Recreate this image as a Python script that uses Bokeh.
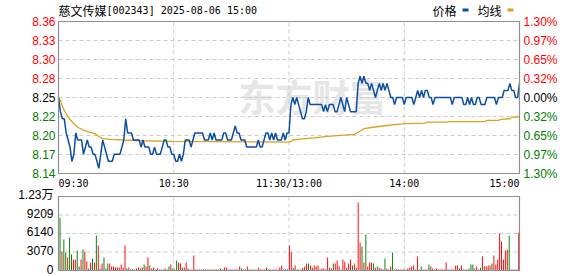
from bokeh.plotting import figure
from bokeh.models import Range1d, LabelSet, Label, ColumnDataSource, BoxAnnotation
from bokeh.embed import file_html
from bokeh.resources import INLINE
from bokeh.core.properties import value

# ---------------- data ----------------
stock_name = "慈文传媒"
title_rest = "[002343] 2025-08-06 15:00"
legend_price = "价格"
legend_avg = "均线"
watermark = "东方财富"

pre_close = 8.25
pct_levels = [1.3, 0.975, 0.65, 0.325, 0.0, -0.325, -0.65, -0.975, -1.3]
price_tick_labels = ["8.36", "8.33", "8.30", "8.28", "8.25", "8.22", "8.20", "8.17", "8.14"]
pct_tick_labels = ["1.30%", "0.97%", "0.65%", "0.32%", "0.00%", "0.32%", "0.65%", "0.97%", "1.30%"]

time_ticks = [0, 60, 120, 180, 240]
time_labels = ["09:30", "10:30", "11:30/13:00", "14:00", "15:00"]

vol_ticks = [0, 3070, 6140, 9209, 12279]
vol_tick_labels = ["0", "3070", "6140", "9209", "1.23万"]

price = [
    8.25, 8.23, 8.22, 8.22, 8.20, 8.19, 8.18, 8.16, 8.17, 8.20,
    8.19, 8.19, 8.19, 8.17, 8.18, 8.19, 8.18, 8.18, 8.17, 8.17,
    8.16, 8.15, 8.17, 8.19, 8.18, 8.17, 8.16, 8.16, 8.16, 8.17,
    8.17, 8.17, 8.17, 8.18, 8.19, 8.22, 8.20, 8.20, 8.20, 8.19,
    8.19, 8.19, 8.19, 8.18, 8.19, 8.18, 8.18, 8.18, 8.17, 8.17,
    8.18, 8.17, 8.17, 8.17, 8.18, 8.19, 8.19, 8.18, 8.18, 8.17,
    8.17, 8.16, 8.16, 8.17, 8.16, 8.17, 8.19, 8.19, 8.19, 8.18,
    8.19, 8.20, 8.20, 8.20, 8.20, 8.20, 8.19, 8.19, 8.19, 8.20,
    8.19, 8.20, 8.19, 8.19, 8.19, 8.19, 8.20, 8.20, 8.19, 8.19,
    8.19, 8.20, 8.21, 8.20, 8.20, 8.19, 8.19, 8.19, 8.18, 8.18,
    8.18, 8.18, 8.18, 8.18, 8.19, 8.18, 8.18, 8.19, 8.20, 8.20,
    8.19, 8.20, 8.19, 8.20, 8.19, 8.19, 8.19, 8.20, 8.19, 8.20,
    8.20, 8.24, 8.25, 8.24, 8.25, 8.24, 8.23, 8.22, 8.22, 8.23,
    8.25, 8.24, 8.24, 8.24, 8.24, 8.24, 8.24, 8.24, 8.23, 8.24,
    8.23, 8.24, 8.24, 8.24, 8.23, 8.23, 8.24, 8.25, 8.24, 8.23,
    8.25, 8.24, 8.23, 8.23, 8.23, 8.23, 8.27, 8.28, 8.27, 8.28,
    8.27, 8.27, 8.26, 8.27, 8.26, 8.25, 8.26, 8.27, 8.26, 8.27,
    8.26, 8.27, 8.26, 8.25, 8.25, 8.24, 8.25, 8.25, 8.25, 8.25,
    8.24, 8.25, 8.25, 8.25, 8.25, 8.24, 8.25, 8.26, 8.25, 8.26,
    8.25, 8.26, 8.26, 8.25, 8.25, 8.24, 8.25, 8.25, 8.25, 8.25,
    8.25, 8.25, 8.25, 8.25, 8.25, 8.24, 8.25, 8.25, 8.25, 8.25,
    8.25, 8.24, 8.24, 8.25, 8.24, 8.25, 8.24, 8.24, 8.25, 8.25,
    8.24, 8.24, 8.24, 8.25, 8.25, 8.25, 8.25, 8.25, 8.24, 8.25,
    8.25, 8.25, 8.26, 8.26, 8.26, 8.27, 8.26, 8.26, 8.25, 8.25,
    8.27,
]

avg_t = [0, 1, 2, 3, 4, 6, 8, 10, 13, 16, 19, 21, 23, 27, 34, 44, 60, 120,
         121, 122, 127, 133, 140, 147, 154, 156, 159, 164, 171, 176, 181, 191,
         192, 202, 203, 222, 223, 229, 230, 235, 236, 239, 240]
avg_v = [8.250, 8.246, 8.238, 8.232, 8.227, 8.219, 8.213, 8.208, 8.204, 8.201,
         8.199, 8.195, 8.192, 8.191, 8.190, 8.189, 8.188, 8.187,
         8.188, 8.190, 8.1915, 8.193, 8.195, 8.1965, 8.198, 8.201, 8.206, 8.208,
         8.2105, 8.212, 8.213, 8.2138, 8.2153, 8.2153, 8.216, 8.216, 8.2176, 8.2176,
         8.219, 8.220, 8.2223, 8.2223, 8.223]

volume = [
    8740, 3150, 5140, 2990, 2160, 5470, 2650, 1825, 1825, 3320,
    660, 1825, 3480, 3150, 1490, 330, 1330, 1990, 1330, 5800,
    4150, 330, 1160, 2160, 330, 1160, 1160, 660, 660, 500,
    500, 500, 1000, 500, 4150, 330, 500, 170, 170, 170,
    330, 500, 330, 500, 1000, 660, 2160, 830, 330, 500,
    170, 330, 170, 170, 170, 330, 170, 660, 1000, 330,
    170, 1660, 1330, 1160, 500, 500, 1330, 330, 170, 170,
    2490, 170, 170, 170, 170, 170, 170, 170, 170, 170,
    170, 170, 170, 170, 330, 170, 500, 500, 170, 170,
    170, 170, 170, 170, 660, 330, 170, 170, 660, 170,
    170, 170, 170, 170, 500, 170, 170, 170, 500, 170,
    170, 170, 170, 170, 170, 500, 830, 170, 170, 170,
    4150,
    3040, 440, 830, 170, 170, 170, 440, 660, 1160, 1160,
    830, 440, 830, 660, 830, 170, 330, 330, 170, 2160,
    440, 330, 1160, 1160, 1660, 660, 170, 1825, 1440, 440,
    1160, 1825, 830, 1160, 440, 11280, 4645, 3980, 1330, 5970,
    660, 1330, 1330, 1160, 440, 660, 440, 330, 170, 1990,
    330, 170, 660, 2990, 170, 170, 170, 170, 170, 170,
    170, 330, 440, 660, 830, 170, 2320, 170, 660, 170,
    170, 170, 1000, 660, 330, 170, 330, 170, 170, 170,
    170, 1330, 170, 170, 170, 170, 830, 830, 330, 830,
    170, 170, 170, 330, 1000, 1000, 330, 660, 170, 440,
    2320, 660, 660, 830, 830, 1160, 2490, 1000, 1825, 6140,
    4810, 1825, 3320, 3480, 5800, 170, 170, 170, 170, 6250,
]
# 1 = up (red), 0 = down (green)
vol_dir = [
    0, 1, 0, 0, 1, 0, 0, 1, 1, 0,
    0, 1, 0, 1, 1, 0, 1, 0, 1, 0,
    1, 1, 1, 0, 0, 0, 1, 1, 1, 1,
    1, 1, 1, 1, 1, 0, 1, 0, 0, 1,
    1, 1, 0, 1, 0, 1, 1, 0, 1, 1,
    0, 1, 0, 1, 1, 1, 0, 0, 1, 0,
    1, 0, 1, 1, 0, 1, 1, 1, 0, 1,
    1, 1, 0, 1, 1, 0, 1, 1, 1, 0,
    1, 1, 1, 0, 1, 0, 1, 1, 1, 1,
    1, 1, 1, 0, 1, 0, 1, 0, 1, 1,
    1, 1, 1, 1, 1, 1, 1, 0, 1, 0,
    1, 1, 1, 1, 1, 1, 1, 0, 1, 1,
    1,
    1, 0, 1, 0, 0, 1, 1, 1, 1, 0,
    1, 1, 1, 1, 1, 1, 1, 1, 0, 1,
    1, 1, 0, 1, 1, 1, 0, 1, 1, 1,
    1, 1, 0, 1, 1, 1, 1, 0, 1, 0,
    1, 1, 1, 0, 1, 0, 1, 1, 0, 0,
    1, 0, 1, 0, 1, 1, 1, 1, 1, 1,
    1, 1, 1, 1, 1, 0, 1, 1, 0, 1,
    1, 1, 0, 1, 1, 1, 1, 1, 1, 1,
    1, 1, 1, 1, 1, 1, 1, 1, 1, 1,
    1, 1, 1, 0, 0, 0, 1, 1, 1, 0,
    1, 1, 1, 1, 1, 0, 1, 1, 1, 1,
    1, 1, 1, 1, 0, 0, 1, 1, 1, 1,
]

minutes = list(range(len(price)))
vol_minutes = list(range(len(volume)))

# ---------------- layout / style ----------------
W, H = 578, 276
FL, FR = 58, 519            # frame left / right (px)
PT, PB = 21, 173            # price panel top / bottom (px)
VT, VB = 196, 270           # volume panel top / bottom (px)
RED = "#ff0000"
GREEN = "#008000"
BLUE = "#0b4ea2"
GOLD = "#dba21e"
GRID = "#cccccc"
FRAME = "#8f8f8f"
NUM_FONT = "Liberation Sans"
CJK_FONT = "Noto Sans CJK SC"
MONO_FONT = "DejaVu Sans Mono"
DASH = "4 3"

def sign_color(q):
    return RED if q > 0 else (GREEN if q < 0 else "#000000")

price_ticks = [pre_close * (1 + q / 100.0) for q in pct_levels]
lab_colors = [sign_color(q) for q in pct_levels]
lo, hi = min(price_ticks), max(price_ticks)

# ranges so that the plotting areas land on the panel pixels
ux = (time_ticks[-1] - time_ticks[0]) / (FR - FL)
x0 = time_ticks[0] - FL * ux
x1 = time_ticks[-1] + (W - FR) * ux
uy = (hi - lo) / (PB - PT)
y0 = lo - (H - PB) * uy
y1 = hi + PT * uy
vmax = vol_ticks[-1]
uv = vmax / (VB - VT)
v0 = -(H - VB) * uv
v1 = vmax + VT * uv
bx_lo, bx_hi = -0.8, 240.4   # bar slot span inside volume frame
ub = (bx_hi - bx_lo) / (FR - FL)
b0 = bx_lo - FL * ub
b1 = bx_hi + (W - FR) * ub

p = figure(width=W, height=H, x_range=Range1d(x0, x1), y_range=Range1d(y0, y1),
           output_backend="svg", toolbar_location=None,
           x_axis_location=None, y_axis_location=None,
           min_border=0, min_border_left=0, min_border_right=0,
           min_border_top=0, min_border_bottom=0)
p.outline_line_color = None
p.background_fill_color = "white"
p.border_fill_color = "white"
p.grid.visible = False
p.extra_y_ranges = {"vol": Range1d(v0, v1)}
p.extra_x_ranges = {"bars": Range1d(b0, b1)}

# watermark
p.add_layout(Label(x=238, y=H - 95, x_units="screen", y_units="screen", text=watermark,
                   text_font=CJK_FONT, text_font_style="bold", text_font_size="37px",
                   text_color="#e6e6e6", text_baseline="middle", level="underlay"))

# price grid
inner_t = time_ticks[1:-1]
inner_p = price_ticks[1:-1]
p.segment(x0=inner_t, x1=inner_t, y0=[lo] * len(inner_t), y1=[hi] * len(inner_t),
          line_color=GRID, line_dash=DASH, line_width=1)
p.segment(x0=[time_ticks[0]] * len(inner_p), x1=[time_ticks[-1]] * len(inner_p),
          y0=inner_p, y1=inner_p, line_color=GRID, line_dash=DASH, line_width=1)
# volume grid
inner_v = vol_ticks[1:-1]
p.segment(x0=inner_t, x1=inner_t, y0=[0] * len(inner_t), y1=[vmax] * len(inner_t),
          y_range_name="vol", line_color=GRID, line_dash=DASH, line_width=1)
p.segment(x0=[time_ticks[0]] * len(inner_v), x1=[time_ticks[-1]] * len(inner_v),
          y0=inner_v, y1=inner_v, y_range_name="vol",
          line_color=GRID, line_dash=DASH, line_width=1)

# lines
p.line(avg_t, avg_v, line_color=GOLD, line_width=1.3)
p.line(minutes, price, line_color=BLUE, line_width=1.5)

# volume bars
bar_colors = [RED if d == 1 else GREEN for d in vol_dir]
p.vbar(x=vol_minutes, top=volume, bottom=0, width=0.5, fill_color=bar_colors,
       line_color=None, x_range_name="bars", y_range_name="vol")

# frames
p.quad(left=time_ticks[0], right=time_ticks[-1], bottom=lo, top=hi,
       fill_color=None, line_color=FRAME, line_width=1.2)
p.quad(left=time_ticks[0], right=time_ticks[-1], bottom=0, top=vmax,
       y_range_name="vol", fill_color=None, line_color=FRAME, line_width=1.2)

# price axis labels
src_l = ColumnDataSource(dict(y=price_ticks, text=price_tick_labels, color=lab_colors))
p.add_layout(LabelSet(x=FL - 3, x_units="screen", y="y", text="text", text_color="color",
                      source=src_l, text_align="right", text_baseline="middle",
                      text_font=value(NUM_FONT), text_font_size="12px"))
src_r = ColumnDataSource(dict(y=price_ticks, text=pct_tick_labels, color=lab_colors))
p.add_layout(LabelSet(x=FR + 4, x_units="screen", y="y", text="text", text_color="color",
                      source=src_r, text_align="left", text_baseline="middle",
                      text_font=value(NUM_FONT), text_font_size="12px"))
# volume axis labels
src_v = ColumnDataSource(dict(y=vol_ticks, text=vol_tick_labels))
p.add_layout(LabelSet(x=FL - 5, x_units="screen", y="y", y_range_name="vol", text="text",
                      y_offset=1.5, source=src_v, text_align="right", text_baseline="middle",
                      text_color="#000000",
                      text_font=value("Liberation Sans, Noto Sans CJK SC"),
                      text_font_size="12px"))

# time labels
aligns = ["left", "center", "center", "center", "right"]
for tx, tl, al in zip(time_ticks, time_labels, aligns):
    p.add_layout(Label(x=tx, y=H - 177, y_units="screen", text=tl, text_align=al,
                       text_baseline="top", text_font=MONO_FONT, text_font_size="10px",
                       text_color="#000000"))

# title and legend
p.add_layout(Label(x=FL, y=H - 10, x_units="screen", y_units="screen", text=stock_name,
                   text_font=CJK_FONT, text_font_size="12px", text_baseline="middle",
                   text_color="#000000"))
p.add_layout(Label(x=FL + 48, y=H - 10, x_units="screen", y_units="screen", text=title_rest,
                   text_font=MONO_FONT, text_font_size="10px", text_baseline="middle",
                   text_color="#000000"))
p.add_layout(Label(x=432, y=H - 10, x_units="screen", y_units="screen", text=legend_price,
                   text_font=CJK_FONT, text_font_size="12px", text_baseline="middle",
                   text_color="#000000"))
p.add_layout(BoxAnnotation(left=462, right=468, bottom=H - 11, top=H - 8,
                           left_units="screen", right_units="screen",
                           bottom_units="screen", top_units="screen",
                           fill_color=BLUE, fill_alpha=1, line_color=None))
p.add_layout(Label(x=477, y=H - 10, x_units="screen", y_units="screen", text=legend_avg,
                   text_font=CJK_FONT, text_font_size="12px", text_baseline="middle",
                   text_color="#000000"))
p.add_layout(BoxAnnotation(left=507, right=513, bottom=H - 11, top=H - 8,
                           left_units="screen", right_units="screen",
                           bottom_units="screen", top_units="screen",
                           fill_color=GOLD, fill_alpha=1, line_color=None))

open("out.html", "w").write(file_html(p, INLINE))
